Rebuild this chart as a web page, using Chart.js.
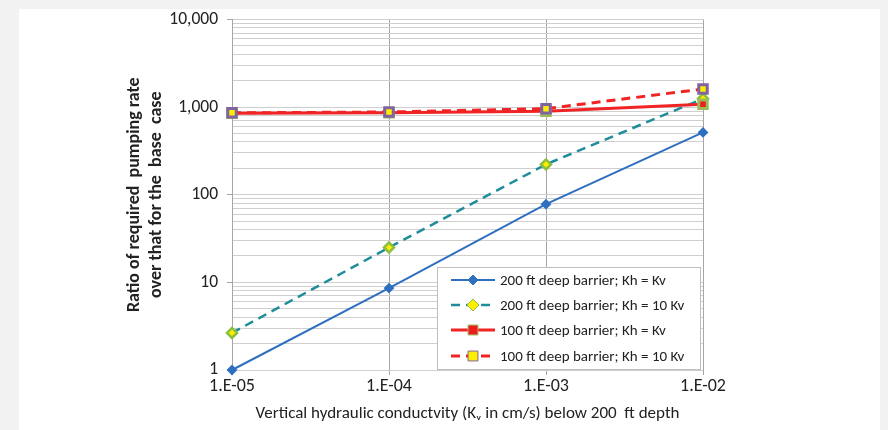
<!DOCTYPE html>
<html>
<head>
<meta charset="utf-8">
<script src="https://cdn.jsdelivr.net/npm/chart.js@4.4.1/dist/chart.umd.min.js"></script>
<style>
	html, body { margin: 0; padding: 0; background: #f2f2f2; }
	#wrap { width: 888px; height: 430px; position: relative; }
</style>
</head>
<body>
<div id="wrap"><canvas id="kv-chart" width="888" height="430"></canvas></div>
<script>
// data
var kvValues = [1e-5, 1e-4, 1e-3, 1e-2];
var deep200Iso = [1.0, 8.6, 78, 515];
var deep200Aniso = [2.65, 25, 222, 1250];
var deep100Iso = [850, 860, 900, 1080];
var deep100Aniso = [860, 880, 960, 1610];
var seriesNames = [
	"200 ft deep barrier; Kh = Kv",
	"200 ft deep barrier; Kh = 10 Kv",
	"100 ft deep barrier; Kh = Kv",
	"100 ft deep barrier; Kh = 10 Kv"
];
var yDecades = [1, 10, 100, 1000, 10000];

var FONT = "Carlito, Lato, 'Open Sans', sans-serif";

function pts(arr){
	return arr.map(function(v, i){ return {x: kvValues[i], y: v}; });
}
function isDecade(v){
	var l = Math.log10(v);
	return Math.abs(l - Math.round(l)) < 1e-9;
}
function fmtKv(v){
	var e = Math.round(Math.log10(v));
	var s = Math.abs(e) < 10 ? '0' + Math.abs(e) : '' + Math.abs(e);
	return '1.E' + (e < 0 ? '-' : '+') + s;
}

var panelBg = {
	id: 'panelBg',
	beforeDraw: function(chart){
		var ctx = chart.ctx;
		ctx.save();
		ctx.fillStyle = '#f2f2f2';
		ctx.fillRect(0, 0, chart.width, chart.height);
		ctx.fillStyle = '#ffffff';
		ctx.fillRect(19, 9, 861, 421);
		ctx.restore();
	}
};

function drawMarker(ctx, style, x, y, r, fill, stroke){
	ctx.fillStyle = fill;
	ctx.strokeStyle = stroke;
	ctx.lineWidth = 1;
	ctx.setLineDash([]);
	ctx.beginPath();
	if (style === 'rectRot') {
		ctx.moveTo(x, y - r); ctx.lineTo(x + r, y); ctx.lineTo(x, y + r); ctx.lineTo(x - r, y); ctx.closePath();
	} else {
		var h = r * Math.SQRT1_2;
		ctx.rect(x - h, y - h, h * 2, h * 2);
	}
	ctx.fill();
	ctx.stroke();
}

var boxLegend = {
	id: 'boxLegend',
	afterDraw: function(chart){
		var ctx = chart.ctx;
		var left = 437, top = 267, w = 263, h = 102;
		ctx.save();
		ctx.fillStyle = '#ffffff';
		ctx.fillRect(left, top, w, h);
		ctx.strokeStyle = '#bfbfbf';
		ctx.lineWidth = 1;
		ctx.strokeRect(left + 0.5, top + 0.5, w, h);
		var rows = [280, 305, 330, 356];
		chart.data.datasets.forEach(function(ds, i){
			var y = rows[i];
			ctx.strokeStyle = ds.borderColor;
			ctx.lineWidth = ds.borderWidth;
			ctx.setLineDash(ds.borderDash || []);
			ctx.beginPath();
			ctx.moveTo(451, y);
			ctx.lineTo(495, y);
			ctx.stroke();
			drawMarker(ctx, ds.pointStyle, 473, y, ds.pointRadius + 1, ds.pointBackgroundColor, ds.pointBorderColor);
			ctx.fillStyle = '#222';
			ctx.font = '15px ' + FONT;
			ctx.textBaseline = 'middle';
			ctx.fillText(ds.label, 500, y + 1);
		});
		ctx.restore();
	}
};

new Chart(document.getElementById('kv-chart'), {
	type: 'line',
	data: {
		datasets: [
			{
				label: seriesNames[0],
				data: pts(deep200Iso),
				order: 4,
				borderColor: '#2f6fbf',
				borderWidth: 2,
				pointStyle: 'rectRot',
				pointRadius: 4,
				pointBackgroundColor: '#2f6fbf',
				pointBorderColor: '#2f6fbf',
				clip: false
			},
			{
				label: seriesNames[1],
				data: pts(deep200Aniso),
				order: 3,
				borderColor: '#1f8c99',
				borderWidth: 2.5,
				borderDash: [9, 6],
				pointStyle: 'rectRot',
				pointRadius: 5,
				pointBackgroundColor: '#ffee00',
				pointBorderColor: '#8cbf3f',
				clip: false
			},
			{
				label: seriesNames[2],
				data: pts(deep100Iso),
				order: 2,
				borderColor: '#f02424',
				borderWidth: 3,
				pointStyle: 'rect',
				pointRadius: 6,
				pointBackgroundColor: '#ee1c1c',
				pointBorderColor: '#9bbb59',
				clip: false
			},
			{
				label: seriesNames[3],
				data: pts(deep100Aniso),
				order: 1,
				borderColor: '#f02424',
				borderWidth: 3,
				borderDash: [9, 6],
				pointStyle: 'rect',
				pointRadius: 6,
				pointBackgroundColor: '#ffee00',
				pointBorderColor: '#8064a2',
				clip: false
			}
		]
	},
	options: {
		responsive: false,
		animation: false,
		layout: { padding: { left: 124, right: 185, top: 19, bottom: 6 } },
		plugins: {
			legend: { display: false },
			tooltip: { enabled: false }
		},
		scales: {
			x: {
				type: 'logarithmic',
				min: 1e-5,
				max: 1e-2,
				afterBuildTicks: function(scale){
					scale.ticks = kvValues.map(function(v){ return {value: v}; });
				},
				afterFit: function(scale){ scale.height = 54; },
				border: { display: false },
				grid: { color: '#a6a6a6', lineWidth: 1, tickLength: 5 },
				ticks: {
					autoSkip: false,
					maxRotation: 0,
					padding: 1,
					color: '#222',
					font: { family: FONT, size: 18 },
					callback: function(v){ return fmtKv(v); }
				},
				title: {
					display: true,
					text: 'Vertical hydraulic conductvity (K\u1D65 in cm/s) below 200  ft depth',
					color: '#222',
					font: { family: FONT, size: 17 },
					padding: { top: 4, bottom: 0 }
				}
			},
			y: {
				type: 'logarithmic',
				min: 1,
				max: 10000,
				afterBuildTicks: function(scale){
					var t = [];
					yDecades.forEach(function(d, i){
						t.push({value: d});
						if (i < yDecades.length - 1) {
							for (var k = 2; k <= 9; k++) t.push({value: d * k});
						}
					});
					scale.ticks = t;
				},
				afterFit: function(scale){ scale.width = 108; },
				border: { display: true, color: '#a6a6a6' },
				grid: {
					color: '#cfcfcf',
					tickColor: function(c){ return isDecade(c.tick.value) ? '#a6a6a6' : 'rgba(0,0,0,0)'; },
					tickLength: 5
				},
				ticks: {
					autoSkip: false,
					padding: 9,
					color: '#222',
					font: { family: FONT, size: 17.5 },
					callback: function(v){ return isDecade(v) ? Number(v).toLocaleString('en-US') : ''; }
				},
				title: {
					display: true,
					text: ['Ratio of required  pumping rate', 'over that for the  base  case'],
					color: '#222',
					font: { family: FONT, size: 18, weight: 'bold' },
					padding: { top: 0, bottom: 2 }
				}
			}
		}
	},
	plugins: [panelBg, boxLegend]
});
</script>
</body>
</html>
